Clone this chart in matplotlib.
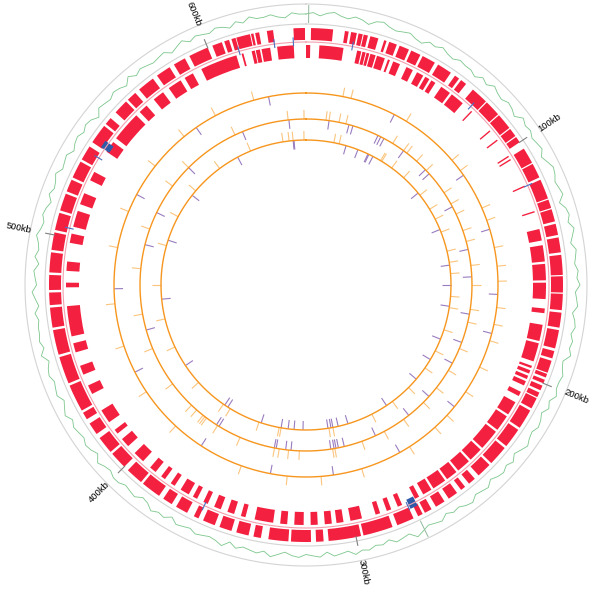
import numpy as np
import matplotlib.pyplot as plt

# circular genome map, positions in kb
GENOME_KB = 640

tick_kb = [100, 200, 300, 400, 500, 600]
tick_labels = ['100kb', '200kb', '300kb', '400kb', '500kb', '600kb']

# outer feature row (forward strand)
fwd_genes = [
    (2, 10.8), (15.5, 17), (18, 20.3), (21, 22.7), (23.1, 24.8), (25.8, 29.1), (31.5, 32.5), (33.6, 36.8),
    (38, 42), (43, 47), (48, 53.5),
    (55, 61), (63, 65), (66, 68.5), (72, 79), (79.5, 86), (86.5, 93), (93.5, 97), (97.5, 100),
    (103, 109.5), (110, 116), (117, 125), (125.5, 129), (129.5, 134.5),
    (135.5, 140), (141, 147), (148, 156), (156.5, 163), (163.5, 170), (171, 177),
    (178, 185.4), (186.5, 189.5), (190.5, 195.5), (196, 197.5), (198.5, 200), (201, 203), (204, 206), (206.5, 211),
    (212, 220), (221, 229), (230, 238), (239, 245), (247, 250), (252, 254), (256, 260), (262, 266),
    (268, 271), (272, 274), (276, 283), (285, 297),
    (298, 311), (313, 316), (318, 326), (327, 335), (338, 341), (343, 348), (350, 355),
    (357, 362), (364, 366), (369, 374), (376, 380), (382, 390), (391, 398), (400, 407), (408, 415),
    (417, 422), (424, 427),
    (428, 439), (440, 451), (452, 462), (463, 471), (472, 477), (478, 484), (485, 493), (494, 501),
    (502, 509), (510, 517), (518, 523), (524, 531),
    (532, 538), (540, 548), (549, 552), (555, 561), (562, 566), (568, 575), (577, 583), (585, 590),
    (592, 600), (602, 606), (607, 609),
    (610, 611.7), (612, 617.6), (618, 619), (619.7, 621.3), (624.4, 626.9), (635, 639.6),
]

# inner feature row (reverse strand)
rev_genes = [
    (0, 1.8), (5.7, 16), (21.9, 23.7), (24.2, 25.6), (26, 27.2), (27.7, 30), (30.6, 34.1), (35.5, 36.4), (37.9, 41),
    (44, 47), (49, 52), (53, 55), (56, 58), (61, 65.5), (66.5, 72.5), (77.3, 77.9), (88.7, 89.3),
    (93.7, 94.3), (102.1, 102.7), (103.7, 104.3), (116.5, 117.1), (128.1, 128.7),
    (136, 141), (143, 150), (151, 158), (159, 166), (170, 172), (177, 184), (185, 193), (195, 196),
    (197, 198.5), (199.5, 201), (202, 204), (207, 209),
    (212, 218), (219, 226), (227, 236), (237, 243), (244, 250), (251, 256), (257, 263), (264, 268),
    (270, 272), (278, 280), (283, 285), (288, 290),
    (296, 301), (304, 307), (309, 312), (315, 318), (321, 325), (328, 331), (334, 342), (346, 348), (351, 354),
    (357, 360), (363, 365), (368, 370), (372, 376), (379, 381), (384, 386), (389, 392), (396, 401),
    (405, 409), (412, 414), (418, 424),
    (432, 436), (441, 445), (451, 455), (458, 471), (479, 481), (486, 490), (498, 502),
    (505, 512), (515, 520), (526, 530),
    (540, 545), (547, 560), (562, 566), (570, 575), (578, 584), (586, 590), (594, 610),
    (612.3, 613.1), (616.7, 618.1), (618.5, 620.3), (621, 624.7), (627.7, 634.8),
]

# small blue features (tRNA-like) and two larger blue boxes
blue_marks = [19.6, 75.9, 117, 276, 364, 504, 536, 611.6, 626.7, 634.7]
blue_boxes = [(272.3, 275.5), (540.3, 543.5)]

# variant ticks on the three inner rings
ring1_orange = [19.7, 24.1, 56, 88, 95, 118, 125, 140, 150, 158, 172, 181, 190, 205, 220, 236, 245,
                262, 290, 312, 330, 355, 396, 420, 447, 470, 500, 520, 548, 570, 590, 612]
ring1_purple = [48.7, 98, 130, 165, 186, 230, 268, 305.4, 339, 378.8, 432, 478, 530, 578, 620]

ring2_orange = [12.3, 14.2, 20.4, 24.7, 56, 64, 66.5, 74.3, 82.5, 100, 108, 115, 126, 133, 148, 160,
                175, 183, 200, 215, 228, 240, 256, 270, 285, 302.2, 303.6, 324.1, 330.7, 336.5, 339.4,
                361.6, 377.2, 385.4, 386.7, 388.1, 393.2, 397.5, 415, 440, 462, 490, 515, 545, 560,
                595, 629, 638.8]
ring2_purple = [14.2, 26.7, 29.2, 45.7, 47.6, 49.8, 64, 81.8, 85.2, 110, 138, 155, 178, 196, 210, 235,
                252, 276, 296.3, 300, 301.5, 302.7, 304.7, 329.2, 332.5, 338.4, 339.6, 376.2, 378,
                452, 505, 526, 560, 600, 629.5]

ring3_orange = [19.7, 23.5, 55, 56, 64.4, 75.2, 92, 104, 112, 122, 136, 144, 152, 168, 176, 192, 208,
                222, 240, 255, 272, 301, 303.8, 337.6, 339, 353.6, 376, 381.7, 405, 435, 456, 480,
                508, 530, 552, 575, 600, 623.8, 628.1, 630.9, 638.6]
ring3_purple = [28.5, 37.3, 45, 45.7, 48.9, 90, 120, 146, 160, 175, 199, 215, 232, 260, 290.1, 297.2,
                301, 302.4, 304.5, 322.1, 328.4, 332.6, 337.6, 352, 378, 380.6, 420, 470, 512, 548,
                590, 631, 631.6]

# GC content profile (arbitrary units, 5 = mean), equally spaced around the genome
gc_values = [
    5, 6, 4, 6, 7, 5, 4, 6, 5, 3, 6, 7, 5, 4, 5, 6, 4, 3, 6, 5, 7, 5, 4, 6, 5, 5, 3, 6, 4, 7,
    5, 4, 6, 5, 3, 7, 5, 6, 4, 5, 6, 3, 5, 7, 6, 4, 5, 6, 2, 5, 6, 4, 7, 5, 3, 6, 5, 4, 6, 5,
    7, 4, 5, 6, 3, 5, 6, 4, 6, 5, 7, 3, 4, 6, 5, 5, 7, 4, 6, 3, 5, 6, 4, 5, 7, 5, 3, 6, 4, 6,
    5, 3, 6, 5, 4, 7, 6, 4, 5, 3, 6, 5, 4, 6, 8, 4, 5, 6, 3, 5, 4, 6, 5, 7, 4, 5, 6, 3, 6, 5,
    4, 6, 5, 3, 5, 7, 4, 6, 5, 4, 6, 3, 7, 5, 4, 5, 6, 4, 5, 6, 3, 6, 5, 7, 4, 3, 6, 5, 4, 6,
    6, 4, 5, 7, 3, 5, 6, 4, 5, 6, 4, 7, 5, 3, 6, 5, 4, 6, 5, 3, 7, 4, 6, 5, 5, 4, 6, 3, 5, 7,
    4, 5, 6, 3, 6, 4, 5, 7, 5, 4, 6, 5, 3, 6, 4, 5, 7, 4, 5, 6, 3, 5, 6, 4, 6, 5, 2, 6, 5, 4,
    6, 5, 3, 7, 4, 6, 5, 4, 5, 6, 3, 5, 7, 4, 6, 5, 4, 6, 5, 3, 6, 4, 7, 5, 5, 6, 4, 3, 6, 5,
]
# isolated GC spikes spanning the whole track
gc_spikes_kb = [1, 274]

RED = '#F42040'
PINK = '#F3A0AE'
BLUE = '#2E5AA8'
GREY = '#D4D4D4'
GREEN = '#7CC68C'
ORANGE = '#F7961E'
LIGHT_ORANGE = '#FBC57E'
PURPLE = '#9A7CC0'


def ang(kb):
    return np.asarray(kb, dtype=float) * 2 * np.pi / GENOME_KB


def gene_bars(ax, genes, r0, r1, color):
    s = np.array([g[0] for g in genes])
    e = np.array([g[1] for g in genes])
    ax.bar(ang((s + e) / 2), r1 - r0, width=ang(e - s), bottom=r0,
           color=color, linewidth=0, align='center')


def circle(ax, r, color, lw):
    t = np.linspace(0, 2 * np.pi, 1441)
    ax.plot(t, np.full_like(t, r), color=color, lw=lw)


W, H = 600, 592
cx, cy, R = 306, 285, 300   # centre and axes radius in pixels

fig = plt.figure(figsize=(W / 100, H / 100), dpi=100)
ax = fig.add_axes([(cx - R) / W, (H - cy - R) / H, 2 * R / W, 2 * R / H], projection='polar')
ax.set_theta_zero_location('N')
ax.set_theta_direction(-1)
ax.set_ylim(0, R)
ax.set_axis_off()

# GC track
circle(ax, 281, GREY, 0.8)
circle(ax, 261, GREY, 0.8)
gc = np.array(gc_values, dtype=float)
gc_theta = ang(np.arange(len(gc)) * GENOME_KB / len(gc))
gc_theta = np.append(gc_theta, 2 * np.pi)
gc_r = np.append(271 + (gc - 5) * 1.5, 271 + (gc[0] - 5) * 1.5)
ax.plot(gc_theta, gc_r, color=GREEN, lw=0.6)
ax.vlines(ang(gc_spikes_kb), 262, 280, color='#8FB89A', lw=0.7)

# scale ticks and labels
ax.vlines(ang(tick_kb), 256, 266, color='#808080', lw=0.8)
for kb, lab in zip(tick_kb, tick_labels):
    th = kb * 360 / GENOME_KB
    if th < 180:
        rot, ha = 90 - th, 'left'
    else:
        rot, ha = 270 - th, 'right'
    ax.text(ang(kb), 280, lab, rotation=rot, rotation_mode='anchor',
            ha=ha, va='center', fontsize=6.8, family='Liberation Sans')

# feature rows
gene_bars(ax, fwd_genes, 245, 257, RED)
circle(ax, 243, PINK, 0.8)
gene_bars(ax, rev_genes, 227, 240, RED)
ax.vlines(ang(blue_marks), 239, 248, color='#4A6FC0', lw=0.8)
gene_bars(ax, blue_boxes, 237, 247, BLUE)

# variant rings
for r, orange, purple in [(192, ring1_orange, ring1_purple),
                          (166, ring2_orange, ring2_purple),
                          (145, ring3_orange, ring3_purple)]:
    ax.vlines(ang(orange), r, r + 9, color=LIGHT_ORANGE, lw=0.8)
    ax.vlines(ang(purple), r - 9, r, color=PURPLE, lw=0.8)
    circle(ax, r, ORANGE, 1.0)

fig.savefig('out.png', dpi=100, facecolor='white')
